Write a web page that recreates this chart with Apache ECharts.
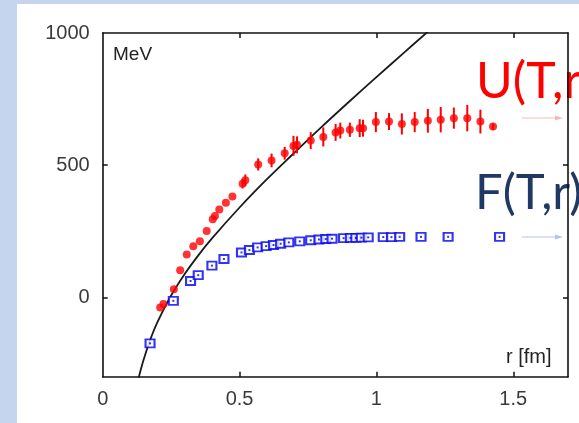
<!DOCTYPE html>
<html>
<head>
<meta charset="utf-8">
<script src="https://cdn.jsdelivr.net/npm/echarts@6/dist/echarts.min.js"></script>
<style>
  html, body { margin: 0; padding: 0; background: #c6d5ee; }
  #panel { position: absolute; left: 17px; top: 4px; width: 562px; height: 419px; background: #ffffff; }
  #chart { position: absolute; left: 0; top: 0; width: 579px; height: 423px; }
</style>
</head>
<body>
<div id="panel"></div>
<div id="chart"></div>
<script>
// Heavy-quark potential: internal energy U(T,r) with errors, free energy F(T,r),
// and the zero-temperature Cornell curve (r in fm, energies in MeV).

const uR   = [0.210, 0.222, 0.260, 0.283, 0.307, 0.331, 0.355, 0.380, 0.402, 0.410, 0.426, 0.450, 0.474,
              0.511, 0.521, 0.568, 0.617, 0.665, 0.697, 0.710, 0.760, 0.806, 0.851, 0.868, 0.903,
              0.939, 0.951, 0.998, 1.046, 1.093, 1.140, 1.188, 1.235, 1.283, 1.332, 1.380, 1.426];
const uV   = [-38, -25, 31, 103, 162, 193, 212, 251, 296, 308, 332, 358, 382,
              430, 443, 503, 518, 545, 573, 577, 593, 607, 624, 631, 634,
              640, 640, 663, 665, 656, 663, 668, 672, 678, 678, 665, 646];
const uErr = [0, 0, 0, 0, 0, 0, 0, 0, 0, 0, 0, 0, 0,
              18, 22, 23, 26, 24, 38, 32, 32, 36, 32, 30, 27,
              34, 32, 38, 32, 40, 38, 45, 48, 40, 50, 45, 12];

const fR = [0.173, 0.258, 0.321, 0.349, 0.399, 0.443, 0.507, 0.536, 0.566, 0.597, 0.624, 0.650, 0.680,
            0.720, 0.760, 0.790, 0.815, 0.838, 0.880, 0.905, 0.925, 0.945, 0.970, 1.025, 1.055,
            1.085, 1.163, 1.262, 1.450];
const fV = [-174, -13, 62, 84, 120, 145, 170, 179, 189, 194, 198, 203, 208,
            212, 216, 219, 221, 222, 224, 225, 225, 226, 227, 228, 228,
            229, 229, 229, 229];

const curveR = [0.13, 0.14, 0.15, 0.17, 0.20, 0.25, 0.30, 0.35, 0.40, 0.50, 0.60, 0.70, 0.80, 0.90, 1.00, 1.10, 1.20];
const curveV = [-310, -270, -234, -171, -94, 7, 89, 160, 224, 340, 447, 547, 645, 740, 833, 925, 1016];

const xTicks = [0, 0.5, 1, 1.5];
const yTicks = [0, 500, 1000];
const xTicksInner = [0.5, 1, 1.5];
const yTicksInner = [0, 500];

const zip = (a, b, c) => a.map((v, i) => c ? [v, b[i], c[i]] : [v, b[i]]);

const labelFont = { fontFamily: 'Liberation Sans, Arial, sans-serif', fontSize: 20, color: '#3a3a3a' };
const frameLine = { show: true, onZero: false, lineStyle: { color: '#111', width: 1.6 } };
const innerTick = (vals) => ({ show: true, inside: true, length: 5, customValues: vals, lineStyle: { color: '#111', width: 1.5 } });
const plain = (v) => String(v);

const chart = echarts.init(document.getElementById('chart'), null, { renderer: 'canvas' });

chart.setOption({
  backgroundColor: 'transparent',
  animation: false,
  grid: { left: 102.7, top: 33, right: 11, bottom: 46.3, containLabel: false },
  xAxis: [
    { type: 'value', position: 'bottom', min: 0, max: 1.7,
      axisLine: frameLine, axisTick: innerTick(xTicksInner),
      axisLabel: Object.assign({ customValues: xTicks, margin: 13, formatter: plain }, labelFont),
      splitLine: { show: false } },
    { type: 'value', position: 'top', min: 0, max: 1.7,
      axisLine: frameLine, axisTick: innerTick(xTicksInner),
      axisLabel: { show: false }, splitLine: { show: false } }
  ],
  yAxis: [
    { type: 'value', position: 'left', min: -300, max: 1000,
      axisLine: frameLine, axisTick: innerTick(yTicksInner),
      axisLabel: Object.assign({ customValues: yTicks, margin: 13, formatter: plain }, labelFont),
      splitLine: { show: false } },
    { type: 'value', position: 'right', min: -300, max: 1000,
      axisLine: frameLine, axisTick: innerTick(yTicksInner),
      axisLabel: { show: false }, splitLine: { show: false } }
  ],
  series: [
    {
      name: 'Cornell', type: 'line', data: zip(curveR, curveV), smooth: 0.4,
      showSymbol: false, clip: true, z: 2,
      lineStyle: { color: '#1a1a1a', width: 1.8 }
    },
    {
      name: 'F(T,r)', type: 'scatter', data: zip(fR, fV), symbol: 'rect', symbolSize: [9, 8], z: 3,
      itemStyle: { color: '#ffffff', borderColor: '#0000f0', borderWidth: 2 }
    },
    {
      name: 'F(T,r) centre', type: 'scatter', data: zip(fR, fV), symbol: 'rect', symbolSize: 2, z: 4,
      itemStyle: { color: '#0000f0' }
    },
    {
      name: 'U(T,r) errors', type: 'custom', data: zip(uR, uV, uErr), z: 4,
      renderItem: (params, api) => {
        const x = api.value(0), y = api.value(1), e = api.value(2);
        if (!e) return null;
        const p1 = api.coord([x, y - e]);
        const p2 = api.coord([x, y + e]);
        return { type: 'line', shape: { x1: p1[0], y1: p1[1], x2: p2[0], y2: p2[1] },
                 style: { stroke: '#ff0000', lineWidth: 2 } };
      }
    },
    {
      name: 'U(T,r)', type: 'scatter', data: zip(uR, uV), symbol: 'circle', symbolSize: 8, z: 5,
      itemStyle: { color: '#ff0000' }
    }
  ],
  graphic: [
    { type: 'text', left: 113, top: 45, z: 10,
      style: { text: 'MeV', fontFamily: 'Liberation Sans, Arial, sans-serif', fontSize: 19, fill: '#222' } },
    { type: 'text', left: 506, top: 347, z: 10,
      style: { text: 'r [fm]', fontFamily: 'Liberation Sans, Arial, sans-serif', fontSize: 20, fill: '#222' } },
    { type: 'text', x: 476, y: 82, z: -1,
      style: { text: 'U(T,r)', fontFamily: 'Lato, sans-serif', fontSize: 50, fill: '#ff0000', verticalAlign: 'middle' } },
    { type: 'text', x: 475, y: 193, z: -1,
      style: { text: 'F(T,r)', fontFamily: 'Lato, sans-serif', fontSize: 49, fill: '#1f3864', verticalAlign: 'middle' } },
    { type: 'line', z: -1, shape: { x1: 522, y1: 118, x2: 560, y2: 118 }, style: { stroke: '#f3b9b9', lineWidth: 1.2 } },
    { type: 'polygon', z: -1, shape: { points: [[555, 115.5], [563, 118], [555, 120.5]] }, style: { fill: '#f3b9b9' } },
    { type: 'line', z: -1, shape: { x1: 522, y1: 237, x2: 560, y2: 237 }, style: { stroke: '#b8c2f2', lineWidth: 1.2 } },
    { type: 'polygon', z: -1, shape: { points: [[555, 234.5], [563, 237], [555, 239.5]] }, style: { fill: '#b8c2f2' } }
  ]
});
</script>
</body>
</html>
